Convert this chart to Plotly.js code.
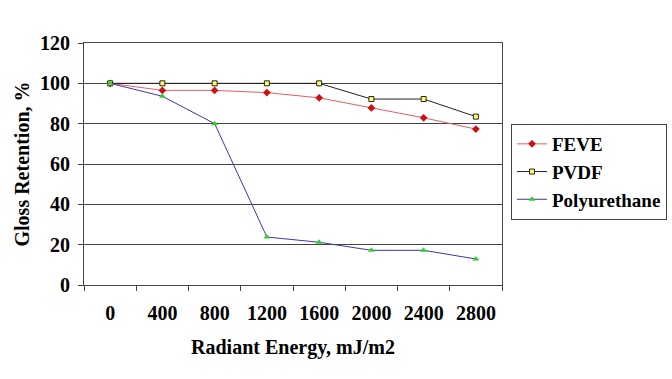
<!DOCTYPE html>
<html>
<head>
<meta charset="utf-8">
<script src="https://cdn.plot.ly/plotly-3.0.1.min.js"></script>
<style>html,body{margin:0;padding:0;background:#fff;}#chart{width:672px;height:379px;}</style>
</head>
<body>
<div id="chart"></div>
<script>
const categories = ["0","400","800","1200","1600","2000","2400","2800"];
const feve = [100, 96.5, 96.5, 95.4, 92.8, 87.8, 82.9, 77.3];
const pvdf = [100, 100, 100, 100, 100, 92.2, 92.2, 83.5];
const polyurethane = [100, 93.6, 80, 23.8, 21.2, 17.2, 17.2, 12.9];
const yTicks = [0, 20, 40, 60, 80, 100, 120];

const serif = "Liberation Serif, Times New Roman, serif";

const traces = [
  {x: categories, y: feve, name: "FEVE", type: "scatter", mode: "lines+markers",
   line: {color: "#e06060", width: 1},
   marker: {symbol: "diamond", size: 6, color: "#d01010", line: {width: 0}}},
  {x: categories, y: pvdf, name: "PVDF", type: "scatter", mode: "lines+markers",
   line: {color: "#222222", width: 1},
   marker: {symbol: "square", size: 5, color: "#ffff66", line: {color: "#222", width: 1}}},
  {x: categories, y: polyurethane, name: "Polyurethane", type: "scatter", mode: "lines+markers",
   line: {color: "#3a3a9a", width: 1},
   marker: {symbol: "triangle-up", size: 6, color: "#33cc33", line: {width: 0}}}
];

const layout = {
  width: 672, height: 379,
  margin: {l: 84, r: 170, t: 43, b: 94, pad: 0},
  paper_bgcolor: "#fff", plot_bgcolor: "#fff",
  showlegend: true,
  font: {family: serif, color: "#000"},
  xaxis: {
    type: "category", range: [-0.5, 7.5],
    tickson: "boundaries", ticks: "outside", ticklen: 5, tickcolor: "#444",
    ticklabelstandoff: 10,
    showgrid: false, showline: true, linecolor: "#444", linewidth: 1, mirror: true,
    tickfont: {family: serif, size: 20, weight: "bold", color: "#000"},
    title: {text: "Radiant Energy, mJ/m2", font: {family: serif, size: 20, weight: "bold", color: "#000"}, standoff: 16},
    zeroline: false, fixedrange: true
  },
  yaxis: {
    range: [0, 120], tickvals: yTicks, ticktext: yTicks.map(String),
    ticks: "outside", ticklen: 5, tickcolor: "#444",
    ticklabelstandoff: 4,
    showgrid: true, gridcolor: "#444", gridwidth: 1,
    showline: true, linecolor: "#444", linewidth: 1, mirror: true,
    tickfont: {family: serif, size: 20, weight: "bold", color: "#000"},
    title: {text: "Gloss Retention, %", font: {family: serif, size: 20, weight: "bold", color: "#000"}, standoff: 5},
    zeroline: false, fixedrange: true
  },
  legend: {
    xref: "container", yref: "container",
    x: 511/672, y: 1 - 124/379, xanchor: "left", yanchor: "top",
    bordercolor: "#444", borderwidth: 1, bgcolor: "#fff",
    font: {family: serif, size: 19, weight: "bold", color: "#000"},
    tracegroupgap: 0, itemwidth: 30
  }
};

Plotly.newPlot("chart", traces, layout, {displayModeBar: false, staticPlot: true});
</script>
</body>
</html>
